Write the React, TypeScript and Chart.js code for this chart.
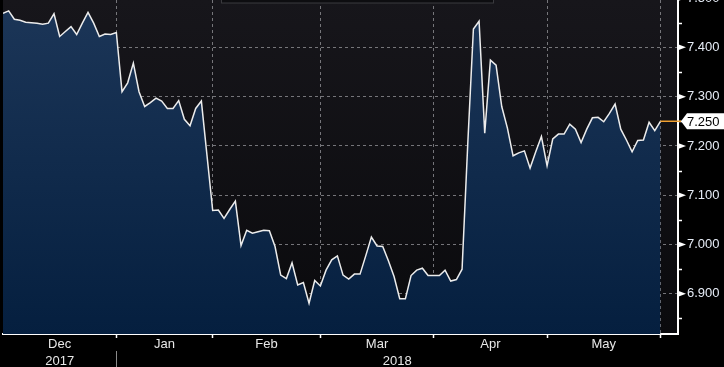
import React, { useEffect, useRef } from 'react';
import { Chart, registerables } from 'chart.js';

Chart.register(...registerables);

// Daily closes, Dec 2017 – end of May 2018 (one value per trading day)
const rates: number[] = [
  7.469, 7.474, 7.457, 7.455, 7.451, 7.450, 7.449, 7.447, 7.449, 7.468,
  7.422, 7.432, 7.442, 7.426, 7.449, 7.471, 7.449, 7.422, 7.427, 7.426,
  7.430, 7.310, 7.328, 7.368, 7.310, 7.280, 7.288, 7.297, 7.291, 7.276,
  7.276, 7.292, 7.254, 7.241, 7.276, 7.291, 7.180, 7.069, 7.070, 7.053,
  7.071, 7.088, 6.998, 7.029, 7.023, 7.026, 7.029, 7.028, 6.996, 6.938,
  6.931, 6.963, 6.918, 6.923, 6.881, 6.927, 6.916, 6.948, 6.969, 6.977,
  6.938, 6.930, 6.940, 6.940, 6.977, 7.015, 6.997, 6.996, 6.967, 6.935,
  6.890, 6.890, 6.937, 6.948, 6.952, 6.937, 6.937, 6.937, 6.948, 6.926,
  6.929, 6.950, 7.203, 7.437, 7.453, 7.226, 7.374, 7.364, 7.280, 7.236,
  7.180, 7.186, 7.190, 7.155, 7.188, 7.219, 7.160, 7.214, 7.224, 7.224,
  7.244, 7.234, 7.207, 7.234, 7.257, 7.258, 7.249, 7.266, 7.285, 7.234,
  7.212, 7.188, 7.211, 7.212, 7.248, 7.231, 7.250,
];

const monthNames: string[] = ['Dec', 'Jan', 'Feb', 'Mar', 'Apr', 'May'];
// index of the first trading day of each month (last entry = June)
const monthStartIdx: number[] = [0, 20, 37, 56, 76, 96, 116];
const yearNames: string[] = ['2017', '2018'];
const yearStartIdx: number[] = [0, 20];
const yMajorTicks: number[] = [6.9, 7.0, 7.1, 7.2, 7.3, 7.4, 7.5];
const yMinorTicks: number[] = [6.85, 6.95, 7.05, 7.15, 7.25, 7.35, 7.45];

const X_MAX = 119.1;
const Y_MIN = 6.8185;
const Y_MAX = 7.496;

const FONT = '"Liberation Sans", Arial, sans-serif';

export default function App() {
  const ref = useRef<HTMLCanvasElement>(null);

  useEffect(() => {
    document.body.style.margin = '0';
    document.body.style.background = '#000';
    const canvas = ref.current!;
    const boundaries = monthStartIdx.slice(1);
    const mids = monthNames.map((_, i) => (monthStartIdx[i] + monthStartIdx[i + 1]) / 2);
    const near = (a: number, b: number) => Math.abs(a - b) < 1e-6;
    const isBoundary = (v: any) => typeof v === 'number' && boundaries.some((b) => near(b, v));
    const isMajor = (v: any) => typeof v === 'number' && yMajorTicks.some((t) => near(t, v));

    const decor = {
      id: 'decor',
      beforeDraw(chart: any) {
        const { ctx, chartArea: ca, width, height } = chart;
        ctx.save();
        ctx.fillStyle = '#000';
        ctx.fillRect(0, 0, width, height);
        const g = ctx.createLinearGradient(0, ca.top, 0, ca.bottom);
        g.addColorStop(0, '#17161b');
        g.addColorStop(1, '#0a0a0d');
        ctx.fillStyle = g;
        ctx.fillRect(ca.left, ca.top, ca.right - ca.left, ca.bottom - ca.top);
        ctx.restore();
      },
      afterDraw(chart: any) {
        const { ctx, chartArea: ca } = chart;
        const xs = chart.scales.x;
        const ys = chart.scales.y;
        ctx.save();

        // faint legend box at the top
        ctx.fillStyle = '#0d0d10';
        ctx.fillRect(221, 0, 272, 3);
        ctx.strokeStyle = '#3a3a3e';
        ctx.lineWidth = 1;
        ctx.strokeRect(221.5, -1.5, 272, 4.5);

        // right axis: arrows at majors, short marks at minors
        ctx.fillStyle = '#ffffff';
        yMajorTicks.forEach((v) => {
          const y = ys.getPixelForValue(v);
          ctx.beginPath();
          ctx.moveTo(ca.right, y - 3);
          ctx.lineTo(ca.right + 8, y);
          ctx.lineTo(ca.right, y + 3);
          ctx.closePath();
          ctx.fill();
        });
        ctx.strokeStyle = '#ffffff';
        ctx.lineWidth = 1.5;
        yMinorTicks.forEach((v) => {
          const y = Math.round(ys.getPixelForValue(v)) + 0.5;
          ctx.beginPath();
          ctx.moveTo(ca.right, y);
          ctx.lineTo(ca.right + 4, y);
          ctx.stroke();
        });

        // year row
        ctx.font = `13px ${FONT}`;
        ctx.fillStyle = '#e8e8e8';
        ctx.textAlign = 'center';
        ctx.textBaseline = 'middle';
        yearNames.forEach((name, i) => {
          const x0 = xs.getPixelForValue(yearStartIdx[i]);
          const x1 = i + 1 < yearStartIdx.length ? xs.getPixelForValue(yearStartIdx[i + 1]) : ca.right;
          ctx.fillText(name, (Math.max(x0, ca.left) + x1) / 2, 361);
        });
        yearStartIdx.slice(1).forEach((idx) => {
          const x = Math.round(xs.getPixelForValue(idx)) + 0.5;
          ctx.strokeStyle = '#8a8a8a';
          ctx.lineWidth = 1;
          ctx.beginPath();
          ctx.moveTo(x, 351);
          ctx.lineTo(x, 367);
          ctx.stroke();
        });

        // last value marker
        const lastIdx = rates.length - 1;
        const last = rates[lastIdx];
        const lx = xs.getPixelForValue(lastIdx);
        const ly = ys.getPixelForValue(last);
        ctx.strokeStyle = '#f0a030';
        ctx.lineWidth = 1.5;
        ctx.beginPath();
        ctx.moveTo(lx, ly);
        ctx.lineTo(ca.right + 3, ly);
        ctx.stroke();

        ctx.fillStyle = '#ffffff';
        ctx.beginPath();
        ctx.moveTo(ca.right + 3, ly);
        ctx.lineTo(ca.right + 9, ly - 8);
        ctx.lineTo(724, ly - 8);
        ctx.lineTo(724, ly + 8);
        ctx.lineTo(ca.right + 9, ly + 8);
        ctx.closePath();
        ctx.fill();
        ctx.fillStyle = '#000000';
        ctx.textAlign = 'left';
        ctx.textBaseline = 'middle';
        ctx.font = `13px ${FONT}`;
        ctx.fillText(last.toFixed(3), ca.right + 9, ly + 1);

        ctx.restore();
      },
    };

    const chart = new Chart(canvas, {
      type: 'line',
      data: {
        datasets: [
          {
            data: rates.map((v, i) => ({ x: i, y: v })),
            borderColor: '#ececec',
            borderWidth: 1.5,
            pointRadius: 0,
            tension: 0,
            fill: 'start',
            backgroundColor: (c: any) => {
              const ca = c.chart.chartArea;
              if (!ca) return 'rgba(10,40,75,1)';
              const g = c.chart.ctx.createLinearGradient(0, ca.top, 0, ca.bottom);
              g.addColorStop(0, 'rgb(28,54,88)');
              g.addColorStop(1, 'rgb(5,31,63)');
              return g;
            },
          },
        ],
      },
      options: {
        animation: false,
        responsive: false,
        maintainAspectRatio: false,
        layout: { padding: { left: 3, top: 0, right: 0, bottom: 0 } },
        plugins: { legend: { display: false }, tooltip: { enabled: false } },
        scales: {
          x: {
            type: 'linear',
            min: 0,
            max: X_MAX,
            afterBuildTicks: (s: any) => {
              s.ticks = [...boundaries, ...mids].sort((a, b) => a - b).map((v) => ({ value: v }));
            },
            afterFit: (s: any) => {
              s.height = 33;
              s.paddingLeft = 0;
              s.paddingRight = 0;
            },
            ticks: {
              autoSkip: false,
              maxRotation: 0,
              color: '#e8e8e8',
              font: { family: FONT, size: 13, lineHeight: 1 },
              padding: 0,
              callback: (v: any) => {
                const i = mids.findIndex((m) => near(m, Number(v)));
                return i >= 0 ? monthNames[i] : '';
              },
            },
            grid: {
              color: (c: any) => (isBoundary(c.tick?.value) ? 'rgba(135,135,140,0.85)' : 'rgba(0,0,0,0)'),
              tickColor: (c: any) => (isBoundary(c.tick?.value) ? '#ffffff' : 'rgba(0,0,0,0)'),
              tickLength: 4,
              tickWidth: 1.5,
              lineWidth: 1,
            },
            border: { color: '#ffffff', width: 2, dash: [3, 3] },
          },
          y: {
            position: 'right',
            min: Y_MIN,
            max: Y_MAX,
            afterBuildTicks: (s: any) => {
              s.ticks = [...yMajorTicks, ...yMinorTicks].sort((a, b) => a - b).map((v) => ({ value: v }));
            },
            afterFit: (s: any) => {
              s.width = 46;
              s.paddingTop = 0;
              s.paddingBottom = 0;
            },
            ticks: {
              autoSkip: false,
              color: '#e6ecf6',
              font: { family: FONT, size: 13 },
              padding: 9,
              callback: (v: any) => (isMajor(Number(v)) ? Number(v).toFixed(3) : ''),
            },
            grid: {
              drawTicks: false,
              color: (c: any) => (isMajor(c.tick?.value) ? 'rgba(135,135,140,0.85)' : 'rgba(0,0,0,0)'),
              lineWidth: 1,
            },
            border: { color: '#ffffff', width: 2, dash: [3, 3] },
          },
        },
      },
      plugins: [decor],
    } as any);

    return () => chart.destroy();
  }, []);

  return (
    <div style={{ width: 724, height: 367, background: '#000' }}>
      <canvas ref={ref} width={724} height={367} style={{ display: 'block' }} />
    </div>
  );
}
